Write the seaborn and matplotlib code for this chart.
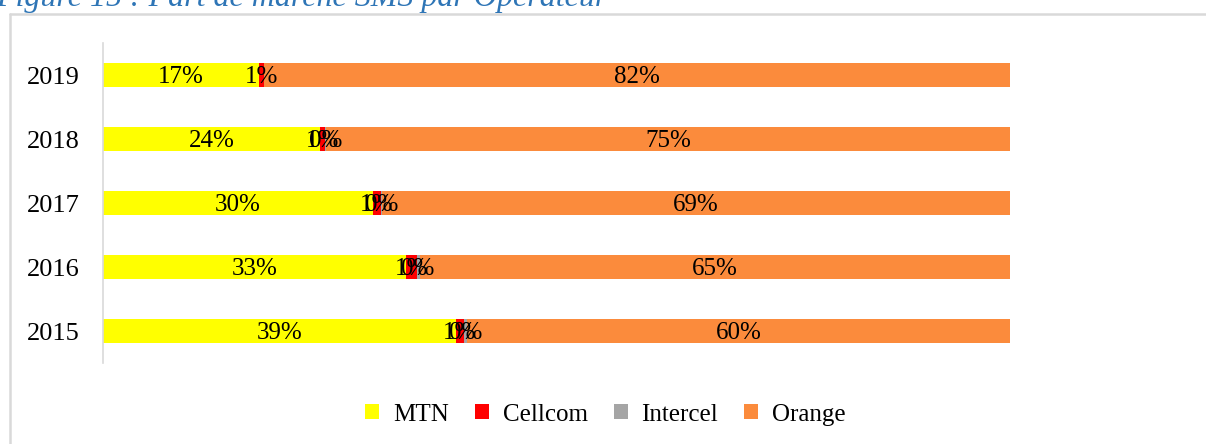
import pandas as pd
import seaborn as sns
import matplotlib.pyplot as plt
from matplotlib.lines import Line2D
from matplotlib.patches import Patch

# market share of SMS traffic per operator (%), top row first
years = ['2019', '2018', '2017', '2016', '2015']
operators = ['MTN', 'Cellcom', 'Intercel', 'Orange']
mtn = [17.2, 23.9, 29.8, 33.4, 38.9]
cellcom = [0.6, 0.6, 0.8, 1.2, 0.9]
intercel = [0.0, 0.1, 0.2, 0.3, 0.3]
orange = [82.2, 75.4, 69.2, 65.1, 59.9]
colors = ['#FFFF00', '#FF0000', '#A5A5A5', '#FB8B3C']

sns.set_style('white')
plt.rcParams['font.family'] = ['Liberation Serif', 'DejaVu Serif']
plt.rcParams['text.color'] = 'black'
plt.rcParams['ytick.labelcolor'] = 'black'

df = pd.DataFrame({'year': years, 'MTN': mtn, 'Cellcom': cellcom,
                   'Intercel': intercel, 'Orange': orange})
# running totals so bars can be layered back to front
cum = df[operators].cumsum(axis=1)

W, H = 1206, 444
fig = plt.figure(figsize=(W / 100, H / 100), dpi=100)
ax = fig.add_axes([103 / W, (H - 363) / H, 907 / W, 320 / H])

for op, col in reversed(list(zip(operators, colors))):
    sns.barplot(x=cum[op], y=df['year'], order=years, color=col, saturation=1,
                width=0.39, linewidth=0, orient='h', ax=ax)

# centred value labels, zero values left blank
for i in range(len(years)):
    start = 0
    for op in operators:
        v = df[op][i]
        if v > 0:
            ax.text(start + v / 2, i + 0.03, f'{v:.0f}%', ha='center', va='center',
                    fontsize=18, color='black')
        start += v

ax.set_xlim(0, 100)
ax.set_ylim(len(years) - 0.5, -0.5)
ax.set_xlabel('')
ax.set_ylabel('')
ax.set_xticks([])
ax.tick_params(axis='y', length=0, pad=16.5, labelsize=19, labelcolor='black')
for s in ['top', 'right', 'bottom']:
    ax.spines[s].set_visible(False)
ax.spines['left'].set_color('#D9D9D9')
ax.spines['left'].set_linewidth(1.2)
ax.patch.set_visible(False)

handles = [Patch(facecolor=c, linewidth=0) for c in colors]
leg = fig.legend(handles, operators, loc='center', bbox_to_anchor=(0.502, 0.066),
                 ncol=4, frameon=False, fontsize=18, handlelength=0.56,
                 handleheight=0.56, handletextpad=0.55, columnspacing=1.04)
for t in leg.get_texts():
    t.set_color('black')

# chart frame (cropped) and caption cut at the top
fig.add_artist(Line2D([10 / W, 1], [1 - 14 / H] * 2, transform=fig.transFigure,
                      color='#D9D9D9', lw=1.8))
fig.add_artist(Line2D([10 / W] * 2, [0, 1 - 14 / H], transform=fig.transFigure,
                      color='#D9D9D9', lw=1.8))
fig.text(-0.003, 1 - 6 / H, 'Figure 15 : Part de marché SMS par Opérateur',
         fontsize=23, style='italic', color='#2E75B6', va='baseline', ha='left')

fig.savefig('out.png', dpi=100)
